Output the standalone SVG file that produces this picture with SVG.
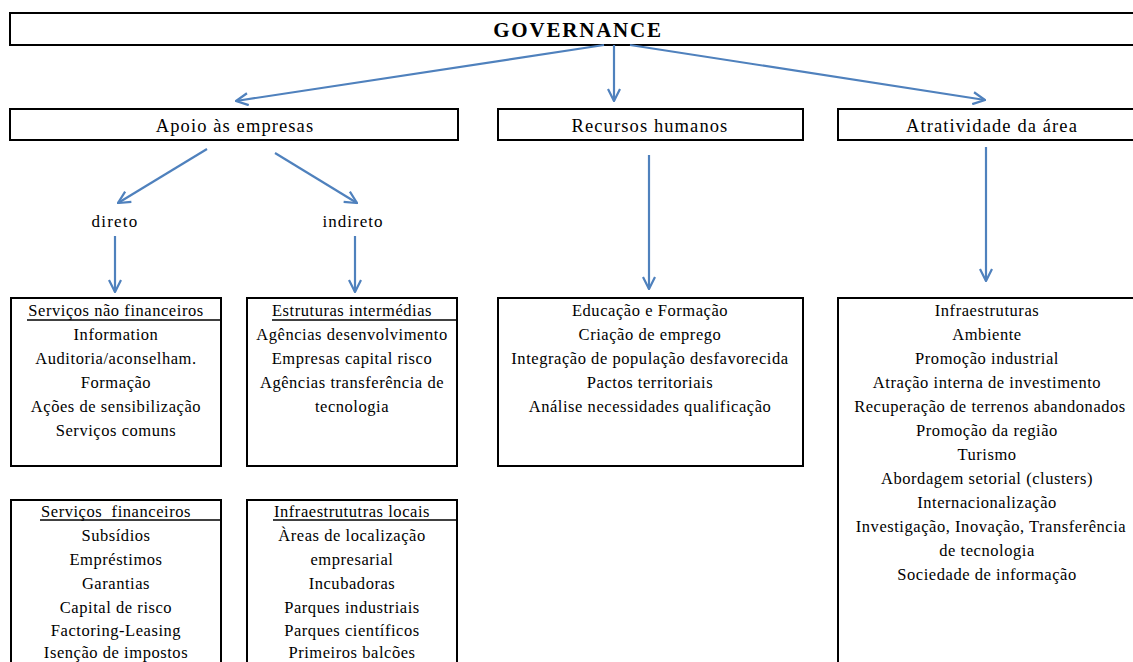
<svg xmlns="http://www.w3.org/2000/svg" width="1133" height="662" viewBox="0 0 1133 662" font-family="Liberation Serif, Times New Roman, serif">
<defs>
<style>
.box{fill:#fff;stroke:#000;stroke-width:2}
.t{font-size:16.5px;fill:#000;text-anchor:middle;letter-spacing:0.55px}
.h{font-size:18.5px;fill:#000;text-anchor:middle;letter-spacing:1.1px}
.ul{stroke:#000;stroke-width:1.5}
.c{stroke:#4f81bd;stroke-width:2.2;fill:none;marker-end:url(#ah)}
</style>
<marker id="ah" viewBox="0 0 14 14" refX="13" refY="7" markerWidth="14" markerHeight="14" markerUnits="userSpaceOnUse" orient="auto">
<path d="M1,1 L13,7 L1,13" fill="none" stroke="#4f81bd" stroke-width="2.2"/>
</marker>
</defs>
<rect width="1133" height="662" fill="#fff"/>
<g id="governance">
<rect class="box" x="10" y="13" width="1130" height="32"/>
<text x="578" y="37" font-size="21" font-weight="bold" letter-spacing="1.8" text-anchor="middle">GOVERNANCE</text>
</g>
<g id="apoio">
<rect class="box" x="10" y="109" width="448" height="31"/>
<text class="h" x="235" y="132">Apoio às empresas</text>
</g>
<g id="recursos">
<rect class="box" x="498" y="109" width="305" height="31"/>
<text class="h" x="650" y="132">Recursos humanos</text>
</g>
<g id="atratividade">
<rect class="box" x="838" y="109" width="302" height="31"/>
<text class="h" x="992" y="132">Atratividade da área</text>
</g>
<g id="direto"><text class="h" x="115" y="227" style="font-size:17px;letter-spacing:1.2px">direto</text></g>
<g id="indireto"><text class="h" x="353" y="227" style="font-size:17px;letter-spacing:1px">indireto</text></g>
<g id="nao-financeiros">
<rect class="box" x="11" y="298" width="210" height="168"/>
<line class="ul" x1="27" y1="320" x2="221" y2="320"/>
<text class="t" x="116" y="316">Serviços não financeiros</text>
<text class="t" x="116" y="340">Information</text>
<text class="t" x="116" y="364">Auditoria/aconselham.</text>
<text class="t" x="116" y="388">Formação</text>
<text class="t" x="116" y="412">Ações de sensibilização</text>
<text class="t" x="116" y="436">Serviços comuns</text>
</g>
<g id="intermedias">
<rect class="box" x="247" y="298" width="210" height="168"/>
<line class="ul" x1="272" y1="320" x2="457" y2="320"/>
<text class="t" x="352" y="316">Estruturas intermédias</text>
<text class="t" x="352" y="340">Agências desenvolvimento</text>
<text class="t" x="352" y="364">Empresas capital risco</text>
<text class="t" x="352" y="388">Agências transferência de</text>
<text class="t" x="352" y="412">tecnologia</text>
</g>
<g id="rh-lista">
<rect class="box" x="498" y="298" width="305" height="168"/>
<text class="t" x="650" y="316">Educação e Formação</text>
<text class="t" x="650" y="340">Criação de emprego</text>
<text class="t" x="650" y="364">Integração de população desfavorecida</text>
<text class="t" x="650" y="388">Pactos territoriais</text>
<text class="t" x="650" y="412">Análise necessidades qualificação</text>
</g>
<g id="area-lista">
<rect class="box" x="838" y="298" width="302" height="380"/>
<text class="t" x="987" y="316">Infraestruturas</text>
<text class="t" x="987" y="340">Ambiente</text>
<text class="t" x="987" y="364">Promoção industrial</text>
<text class="t" x="987" y="388">Atração interna de investimento</text>
<text class="t" x="990" y="412">Recuperação de terrenos abandonados</text>
<text class="t" x="987" y="436">Promoção da região</text>
<text class="t" x="987" y="460">Turismo</text>
<text class="t" x="987" y="484">Abordagem setorial (clusters)</text>
<text class="t" x="987" y="508">Internacionalização</text>
<text class="t" x="991" y="532">Investigação, Inovação, Transferência</text>
<text class="t" x="987" y="556">de tecnologia</text>
<text class="t" x="987" y="580">Sociedade de informação</text>
</g>
<g id="financeiros">
<rect class="box" x="11" y="500" width="210" height="180"/>
<line class="ul" x1="40" y1="520" x2="221" y2="520"/>
<text class="t" x="116" y="517" xml:space="preserve">Serviços  financeiros</text>
<text class="t" x="116" y="541">Subsídios</text>
<text class="t" x="116" y="565">Empréstimos</text>
<text class="t" x="116" y="589">Garantias</text>
<text class="t" x="116" y="613">Capital de risco</text>
<text class="t" x="116" y="636">Factoring-Leasing</text>
<text class="t" x="116" y="658">Isenção de impostos</text>
</g>
<g id="locais">
<rect class="box" x="247" y="500" width="210" height="180"/>
<line class="ul" x1="273" y1="520" x2="457" y2="520"/>
<text class="t" x="352" y="517">Infraestrututras locais</text>
<text class="t" x="352" y="541">Àreas de localização</text>
<text class="t" x="352" y="565">empresarial</text>
<text class="t" x="352" y="589">Incubadoras</text>
<text class="t" x="352" y="613">Parques industriais</text>
<text class="t" x="352" y="636">Parques científicos</text>
<text class="t" x="352" y="658">Primeiros balcões</text>
</g>
<g id="connectors">
<line class="c" x1="604" y1="45" x2="236" y2="101"/>
<line class="c" x1="614" y1="45" x2="614" y2="101"/>
<line class="c" x1="630" y1="45" x2="985" y2="100"/>
<line class="c" x1="207" y1="149" x2="118" y2="203"/>
<line class="c" x1="275" y1="153" x2="357" y2="203"/>
<line class="c" x1="115" y1="236" x2="115" y2="292"/>
<line class="c" x1="355" y1="236" x2="355" y2="292"/>
<line class="c" x1="649" y1="155" x2="649" y2="289"/>
<line class="c" x1="986" y1="147" x2="986" y2="281"/>
</g>
</svg>
